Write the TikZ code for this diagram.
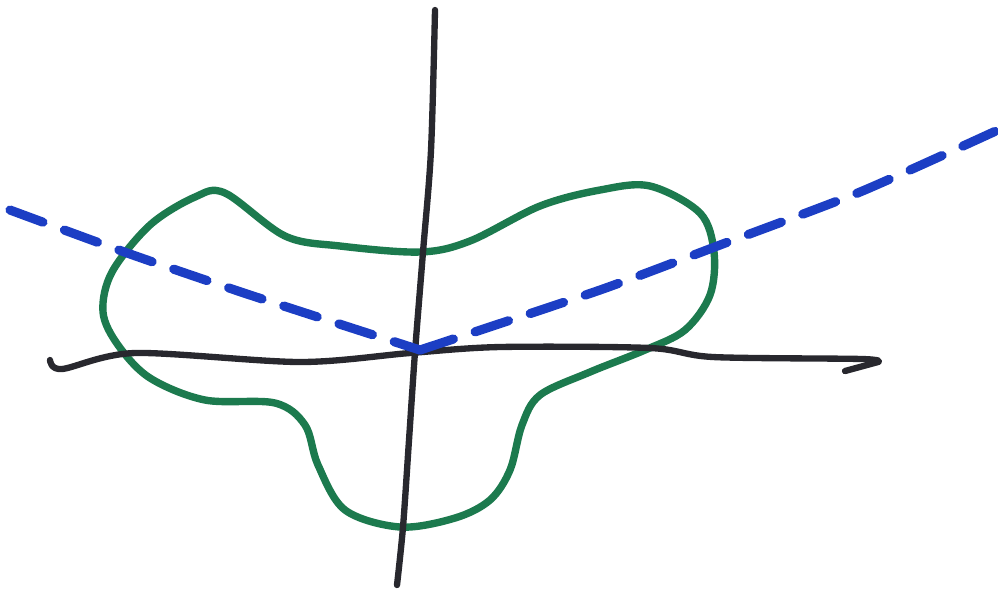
\documentclass[tikz,border=0pt]{standalone}
\usepackage{tikz}
\usetikzlibrary{arrows.meta}

\definecolor{penblack}{RGB}{40,40,46}
\definecolor{pengreen}{RGB}{28,122,78}
\definecolor{penblue}{RGB}{28,62,196}

\begin{document}
\begin{tikzpicture}[
        x = 0.01cm, y = -0.01cm,
        line cap = round, line join = round,
        axisline/.style = {draw = penblack, line width = 1.8pt},
        blobline/.style = {draw = pengreen, line width = 2.1pt},
        dashline/.style = {draw = penblue, line width = 2.6pt, dash pattern = on 10pt off 6.5pt}
    ]
      \useasboundingbox (0,0) rectangle (998,590);

      % green closed curve
      \draw[blobline] plot[smooth cycle, tension = 0.55] coordinates {
        (225,193) (285,236) (340,246) (420,252) (470,241) (540,206) (600,190)
        (650,186) (700,213) (714,252) (710,295) (685,330) (645,350) (590,372)
        (540,395) (522,425) (510,470) (490,500) (455,518) (400,527) (345,510)
        (318,465) (305,425) (275,403) (205,400) (150,378) (118,345) (103,312)
        (112,272) (150,225) (195,197)};

      % axes
      \draw[axisline] plot[smooth, tension = 0.5] coordinates {
        (50,360) (62,369) (135,353) (300,362) (410,353) (500,347) (650,348)
        (713,357) (862,359) (878,362)};
      \draw[axisline] (878,362) -- (845,371);
      \draw[axisline] plot[smooth, tension = 0.5] coordinates {
        (435,10) (431,150) (423,252) (415,352) (409,440) (403,527) (397,585)};

      % blue dashed line
      \draw[dashline] plot[smooth, tension = 0.4] coordinates {
        (10,210) (130,254) (250,295) (420,350)};
      \draw[dashline] plot[smooth, tension = 0.4] coordinates {
        (420,350) (600,290) (720,245) (860,192) (998,130)};
    \end{tikzpicture}
\end{document}
